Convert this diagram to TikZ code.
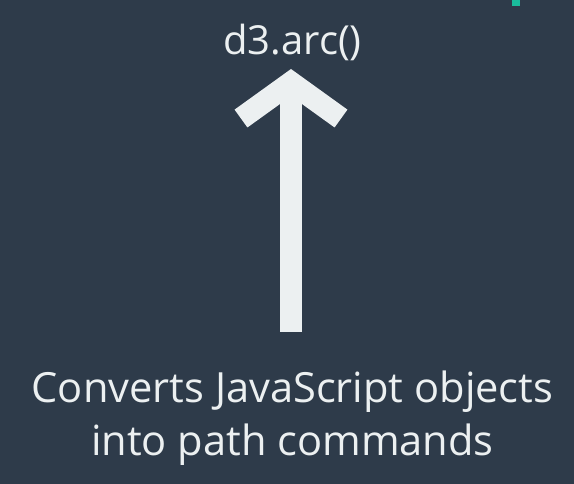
\documentclass[tikz,border=0pt]{standalone}
\usepackage{fontspec}
\setmainfont{Open Sans}
\usetikzlibrary{arrows.meta}

\definecolor{slate}{RGB}{46,59,74}
\definecolor{cloud}{RGB}{236,240,241}
\definecolor{teal}{RGB}{26,188,156}

\begin{document}
\begin{tikzpicture}[
  x=1pt,
  y=-1pt,
  title/.style={
    text=cloud,
    inner sep=0pt,
    font=\fontsize{40}{48}\selectfont
  },
  caption/.style={
    text=cloud,
    inner sep=0pt,
    align=center,
    font=\fontsize{41.6}{53}\selectfont
  },
  pointer/.style={
    draw=cloud,
    line width=22pt,
    -{Straight Barb[sharp,length=36pt,width=100pt]}
  }
]

% =========================================================
% FOND
% =========================================================

\fill[slate] (0,0) rectangle (574,484);
\useasboundingbox (0,0) rectangle (574,484);

\fill[teal] (512,0) rectangle (520,6);

% =========================================================
% TEXTES
% =========================================================

\node[title, anchor=base] (arc) at (292.5,55) {d3.arc()};

\node[caption, anchor=center] (desc) at (292.5,418.5)
  {Converts JavaScript objects\\into path commands};

% =========================================================
% FLECHE
% =========================================================

\coordinate (foot) at (291,332);
\coordinate (tip) at (291,69);

\draw[pointer] (foot) -- (tip);

\end{tikzpicture}
\end{document}
